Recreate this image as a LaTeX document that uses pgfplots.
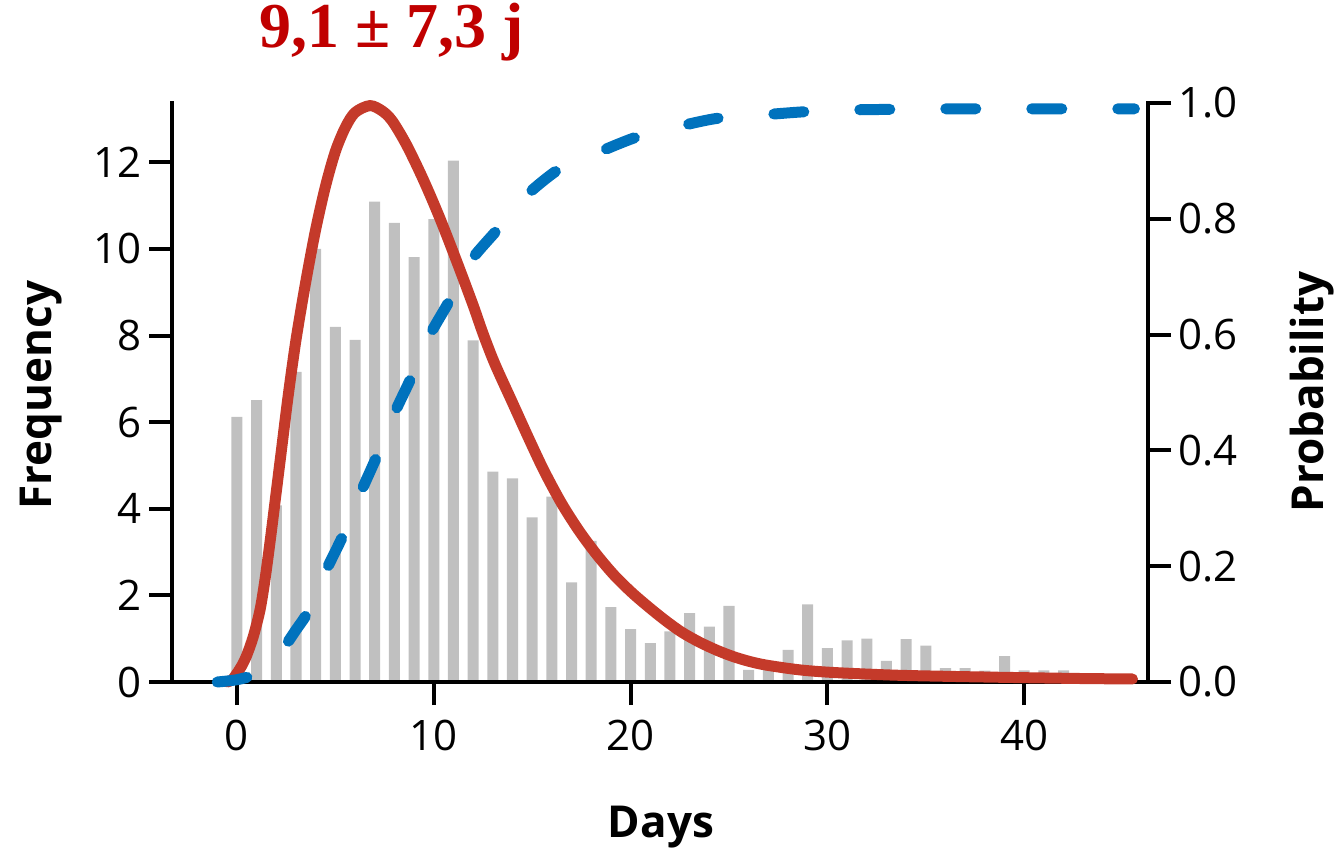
\documentclass[border=0pt]{standalone}
\usepackage{pgfplots}
\usepackage{pgfplotstable}
\pgfplotsset{compat=1.18}
\usepackage{fontspec}
\setmainfont{Open Sans}
\newfontfamily\titlefont{Liberation Serif}
\definecolor{curvered}{RGB}{196,58,42}
\definecolor{cdfblue}{RGB}{0,114,189}
\definecolor{bargray}{RGB}{192,192,192}
\definecolor{titlered}{RGB}{192,0,0}

\pgfplotstableread{
x y
0 6.12
1 6.51
2 4.08
3 7.16
4 10.00
5 8.20
6 7.90
7 11.09
8 10.60
9 9.81
10 10.69
11 12.04
12 7.89
13 4.86
14 4.70
15 3.80
16 4.28
17 2.30
18 3.26
19 1.73
20 1.22
21 0.90
22 1.17
23 1.59
24 1.28
25 1.76
26 0.28
27 0.28
28 0.74
29 1.79
30 0.78
31 0.96
32 1.00
33 0.49
34 0.99
35 0.84
36 0.32
37 0.32
38 0.26
39 0.60
40 0.27
41 0.27
42 0.27
}\bars

\pgfplotstableread{
x y
-0.5 0
-0.25 0.05
0 0.2
0.25 0.38
0.5 0.62
0.83 1.05
1.17 1.66
1.42 2.35
1.7 3.3
2.0 4.4
2.3 5.5
2.6 6.6
3.0 7.9
3.5 9.25
4.0 10.45
4.5 11.45
5.0 12.25
5.5 12.8
6.0 13.15
6.76 13.31
7.4 13.18
7.9 12.95
8.62 12.4
9.47 11.6
10.31 10.71
11.16 9.72
12.0 8.7
12.5 8.05
13.1 7.35
14.0 6.45
14.8 5.65
15.6 4.88
16.5 4.12
17.4 3.48
18.3 2.93
19.2 2.45
20.1 2.05
21.0 1.70
21.8 1.41
22.6 1.15
23.5 0.92
24.4 0.73
25.2 0.59
26.0 0.48
26.9 0.39
28.6 0.28
30.3 0.22
33.3 0.16
36.2 0.13
40 0.10
43 0.08
45.5 0.07
}\pdfcurve

\pgfplotstableread{
x y
-1.0 0
0 0.004
0.83 0.012
1.5 0.028
2.0 0.045
2.52 0.066
3.0 0.09
3.54 0.117
4.0 0.152
4.56 0.195
5.32 0.248
5.85 0.29
6.39 0.335
7.06 0.386
7.6 0.43
8.08 0.47
8.79 0.521
9.35 0.565
9.89 0.605
10.74 0.655
11.4 0.697
12.0 0.733
13.2 0.78
14.0 0.812
14.85 0.845
16.24 0.883
17.3 0.9
18.3 0.914
20.3 0.941
22.5 0.96
24.5 0.974
26.9 0.98
28.9 0.985
31.2 0.988
33.2 0.989
36 0.99
40 0.99
45.6 0.99
}\cdfcurve

\begin{document}
\begin{tikzpicture}
\begin{axis}[
  name=ax, at={(0,0)}, anchor=south west,
  set layers,
  scale only axis, width=488pt, height=289.5pt,
  xmin=-3.3, xmax=46.29, ymin=0, ymax=13.37,
  axis x line*=bottom, axis y line*=left,
  axis line style={-, line width=2pt, line cap=rect},
  tick style={line width=2pt, black},
  tick align=outside, major tick length=11.5pt,
  xtick={0,10,20,30,40}, xticklabels={0,10,20,30,40},
  ytick={0,2,4,6,8,10,12}, yticklabels={0,2,4,6,8,10,12},
  minor tick num=0,
  tick label style={font=\fontsize{21}{24}\selectfont},
  xticklabel style={inner sep=0pt, yshift=-7.5pt},
  yticklabel style={inner sep=0pt, xshift=-3.5pt},
  xlabel={Days},
  xlabel style={at={(axis description cs:0.501,-0.2504)}, anchor=center, font=\bfseries\fontsize{22}{26}\selectfont},
  ylabel={Frequency},
  ylabel style={at={(axis description cs:-0.1342,0.4957)}, anchor=center, font=\bfseries\fontsize{22}{26}\selectfont},
  title={9,1 ± 7,3 j},
  title style={at={(axis description cs:0.2254,1.0743)}, anchor=base, text=titlered, font=\titlefont\bfseries\fontsize{32}{36}\selectfont},
  clip=false,
]
\addplot[ybar, bar width=0.56, bar shift=0pt, fill=bargray, draw=none, on layer=axis background] table[x=x,y=y]{\bars};
\addplot[curvered, line width=5.5pt, smooth, line cap=round, line join=round] table[x=x,y=y]{\pdfcurve};
\end{axis}
\begin{axis}[
  at={(0,0)}, anchor=south west,
  scale only axis, width=488pt, height=289.5pt,
  xmin=-3.3, xmax=46.29, ymin=0, ymax=1,
  axis x line=none, axis y line*=right,
  axis line style={-, line width=2pt, line cap=rect},
  tick style={line width=2pt, black},
  tick align=outside, major tick length=11.5pt,
  ytick={0,0.2,0.4,0.6,0.8,1}, yticklabels={0.0,0.2,0.4,0.6,0.8,1.0},
  minor tick num=0,
  tick label style={font=\fontsize{21}{24}\selectfont},
  yticklabel style={inner sep=0pt, xshift=3.5pt},
  ylabel={Probability},
  ylabel style={at={(axis description cs:1.168,0.5009)}, anchor=center, font=\bfseries\fontsize{22}{26}\selectfont},
  clip=false,
]
\addplot[cdfblue, line width=5.5pt, smooth, line cap=round, dash pattern=on 15pt off 28pt] table[x=x,y=y]{\cdfcurve};
\end{axis}
\pgfresetboundingbox
\path[use as bounding box] ([shift={(-86pt,-85.5pt)}]ax.south west) rectangle ++(671pt,426.5pt);
\end{tikzpicture}
\end{document}
